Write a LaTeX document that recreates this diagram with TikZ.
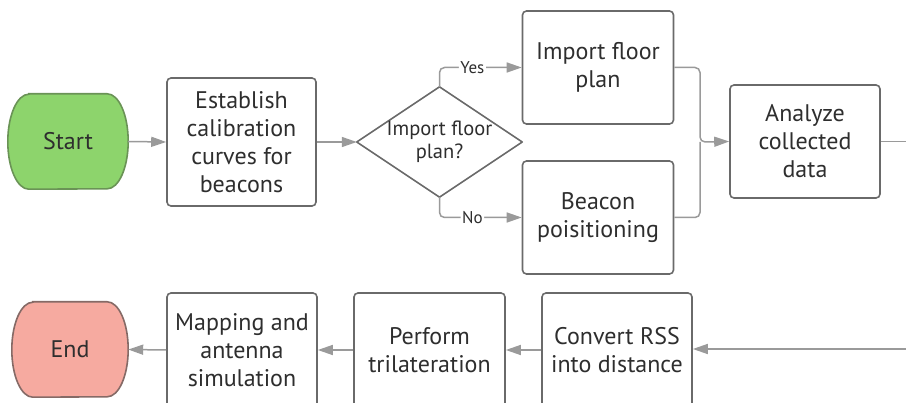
\documentclass[tikz,border=0pt]{standalone}
\usepackage{fontspec}
\setmainfont{PT Sans}
\usetikzlibrary{arrows.meta}
\definecolor{boxline}{HTML}{6A6A6A}
\definecolor{connline}{HTML}{9A9A9A}
\definecolor{txt}{HTML}{2E2E2E}
\definecolor{startfill}{HTML}{8DD46C}
\definecolor{startline}{HTML}{6A9356}
\definecolor{endfill}{HTML}{F6AAA0}
\definecolor{endline}{HTML}{856A66}
\tikzset{
  box/.style={draw=boxline, line width=1.6pt, rounded corners=4pt, fill=white,
    text=txt, align=center, inner sep=0pt, font=\fontsize{24}{28}\selectfont},
  ghost/.style={inner sep=0pt, text=txt, align=center, font=\fontsize{24}{28}\selectfont},
  conn/.style={draw=connline, line width=1.5pt, -{Triangle[length=15pt,width=10pt]}},
  plain/.style={draw=connline, line width=1.5pt},
  lbl/.style={fill=white, text=txt, inner sep=1.5pt, font=\fontsize{17}{19}\selectfont},
}
\begin{document}
\begin{tikzpicture}[x=1pt,y=-1pt]
\useasboundingbox (0,0) rectangle (906,403);
\clip (0,0) rectangle (906,403);
% terminals (shapes drawn explicitly)
\node[ghost, minimum width=120pt, minimum height=95pt] (start) at (68,141.5) {};
\draw[fill=startfill, draw=startline, line width=1.6pt]
  ([xshift=21pt]start.north west) -- ([xshift=-21pt]start.north east)
  arc[start angle=90, end angle=-90, x radius=21pt, y radius=47.5pt]
  -- ([xshift=21pt]start.south west)
  arc[start angle=270, end angle=90, x radius=21pt, y radius=47.5pt] -- cycle;
\node[ghost] at (start) {Start};

\node[ghost, minimum width=116pt, minimum height=95pt] (end) at (70,349.5) {};
\draw[fill=endfill, draw=endline, line width=1.6pt]
  ([xshift=21pt]end.north west) -- ([xshift=-21pt]end.north east)
  arc[start angle=90, end angle=-90, x radius=21pt, y radius=47.5pt]
  -- ([xshift=21pt]end.south west)
  arc[start angle=270, end angle=90, x radius=21pt, y radius=47.5pt] -- cycle;
\node[ghost] at (end) {End};

% process boxes
\node[box, minimum width=149pt, minimum height=128pt] (est) at (241.5,142) {Establish\\calibration\\curves for\\beacons};
\node[box, minimum width=151pt, minimum height=113pt] (imp) at (598,67.5) {Import floor\\plan};
\node[box, minimum width=151pt, minimum height=113pt] (bea) at (598,217.5) {Beacon\\poisitioning};
\node[box, minimum width=150pt, minimum height=113pt] (ana) at (805,141.5) {Analyze\\collected\\data};
\node[box, minimum width=150pt, minimum height=114pt] (conv) at (617,350) {Convert RSS\\into distance};
\node[box, minimum width=151pt, minimum height=114pt] (perf) at (429.5,350) {Perform\\trilateration};
\node[box, minimum width=150pt, minimum height=114pt] (map) at (242,350) {Mapping and\\antenna\\simulation};

% decision
\node[inner sep=0pt, minimum width=165pt, minimum height=110pt] (dec) at (439.5,142) {};
\draw[draw=boxline, line width=1.6pt, fill=white, line join=round]
  (dec.north) -- (dec.east) -- (dec.south) -- (dec.west) -- cycle;
\node[ghost, font=\fontsize{20.5}{23}\selectfont] at (439.5,142) {Import floor\\plan?};

% connectors
\draw[conn] (start.east) -- (est.west);
\draw[conn] (est.east) -- (dec.west);
\draw[conn, rounded corners=5pt] (dec.north) |- node[lbl, pos=0.7] {Yes} (imp.west);
\draw[conn, rounded corners=5pt] (dec.south) |- node[lbl, pos=0.7] {No} (bea.west);
\coordinate (mx) at (700,142);
\draw[plain, rounded corners=5pt] (bea.east) -| (mx);
\draw[conn, rounded corners=5pt] (imp.east) -| (mx) -- (ana.west);
\coordinate (rt) at (910,141.5);
\draw[plain] (ana.east) -- (rt);
\coordinate (rb) at (910,349);
\draw[conn] (rb) -- (conv.east |- rb);
\draw[conn] (conv.west) -- (perf.east);
\draw[conn] (perf.west) -- (map.east);
\draw[conn] (map.west) -- (end.east);
\end{tikzpicture}
\end{document}
